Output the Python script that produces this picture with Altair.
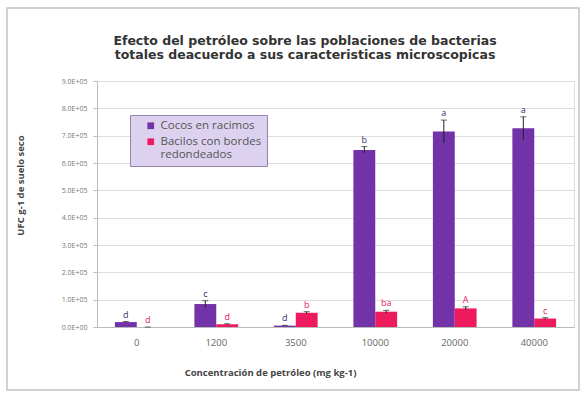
import altair as alt
import pandas as pd

conc = ["0", "1200", "3500", "10000", "20000", "40000"]
series = ["Cocos en racimos", "Bacilos con bordes redondeados"]
cocos = [0.18e5, 0.84e5, 0.05e5, 6.48e5, 7.15e5, 7.27e5]
cocos_err = [0.02e5, 0.12e5, 0.01e5, 0.12e5, 0.42e5, 0.42e5]
bacilos = [0.0, 0.10e5, 0.52e5, 0.56e5, 0.68e5, 0.31e5]
bacilos_err = [0.0, 0.02e5, 0.04e5, 0.05e5, 0.06e5, 0.03e5]
cocos_letters = ["d", "c", "d", "b", "a", "a"]
bacilos_letters = ["d", "d", "b", "ba", "A", "c"]
y_ticks = [0, 100000, 200000, 300000, 400000, 500000, 600000, 700000, 800000, 900000]
colors = ["#7232a8", "#ee1a5e"]
title_lines = ["Efecto del petróleo sobre las poblaciones de bacterias",
               "totales deacuerdo a sus caracteristicas microscopicas"]

rows = []
for i, c in enumerate(conc):
    rows.append({"conc": c, "serie": series[0], "v": cocos[i], "e": cocos_err[i], "lab": cocos_letters[i]})
    rows.append({"conc": c, "serie": series[1], "v": bacilos[i], "e": bacilos_err[i], "lab": bacilos_letters[i]})
df = pd.DataFrame(rows)

FONT = "Open Sans"

y_scale = alt.Scale(domain=[0, 900000], nice=False)
y_axis = alt.Axis(values=y_ticks, title="UFC g-1 de suelo seco",
                  labelExpr="datum.value == 0 ? '0.0E+00' : format(datum.value/100000, '.1f') + 'E+05'",
                  labelOverlap=False,
                  labelFont=FONT, labelFontSize=7, labelColor="#777",
                  tickSize=4, tickColor="#bbbbbb", domainColor="#bbbbbb",
                  gridColor="#dddddd", labelPadding=6,
                  titleFont=FONT, titleFontSize=9.5, titleFontWeight="bold",
                  titleColor="#444", titleX=-77, titleY=104,
                  titleAngle=-90, titleBaseline="middle")

base = alt.Chart(df).transform_calculate(
    lo="datum.v - datum.e", hi="datum.v + datum.e"
).encode(
    x=alt.X("conc:N", sort=conc,
            scale=alt.Scale(paddingInner=0.45, paddingOuter=0.225),
            axis=alt.Axis(title="Concentración de petróleo (mg kg-1)", labelAngle=0,
                          labelFont=FONT, labelFontSize=9.5, labelColor="#666",
                          labelPadding=10, ticks=False, domainColor="#bbbbbb",
                          titleFont=FONT, titleFontSize=9.5, titleFontWeight="bold",
                          titleColor="#444", titleX=173, titleY=45,
                          titleBaseline="middle")),
    xOffset=alt.XOffset("serie:N", sort=series,
                        scale=alt.Scale(paddingInner=0, paddingOuter=0)),
)

bars = base.mark_bar().encode(
    y=alt.Y("v:Q", scale=y_scale, axis=y_axis),
    color=alt.Color("serie:N", sort=series,
                    scale=alt.Scale(domain=series, range=colors),
                    legend=alt.Legend(orient="none", legendX=33, legendY=34, title=None,
                                      fillColor="#dcd2ef", strokeColor="#9484ae",
                                      padding=5, symbolOffset=10, symbolType="square",
                                      symbolSize=45, symbolStrokeWidth=0,
                                      labelFont=FONT, labelFontSize=11.5, labelColor="#555",
                                      rowPadding=3, labelLimit=220,
                                      labelExpr="datum.label == 'Bacilos con bordes redondeados' ? ['Bacilos con bordes', 'redondeados'] : datum.label")),
)

err = base.mark_rule(color="#222", strokeWidth=1).encode(
    y=alt.Y("lo:Q", scale=y_scale, axis=y_axis), y2="hi:Q")
caps = base.mark_tick(color="#222", thickness=1, size=6).encode(
    y=alt.Y("hi:Q", scale=y_scale, axis=y_axis))

labels = base.mark_text(font=FONT, fontSize=9, baseline="bottom", dy=-2).encode(
    y=alt.Y("hi:Q", scale=y_scale, axis=y_axis), text="lab:N",
    color=alt.condition(alt.datum.serie == series[0], alt.value("#3b2a6b"), alt.value("#e8185f")),
)

one = pd.DataFrame({"f": [0]})
frame = alt.Chart(one).mark_rect(
    fill=None, stroke="#c4c4c4", strokeWidth=1.5
).encode(x=alt.value(-90), x2=alt.value(482), y=alt.value(-73), y2=alt.value(309))

title = alt.Chart(one).mark_text(
    text=title_lines, font="DejaVu Sans", fontSize=12.5, fontWeight="bold",
    color="#333", lineHeight=14, align="center", baseline="middle"
).encode(x=alt.value(208), y=alt.value(-40))

chart = alt.layer(frame, title, bars, err, caps, labels).properties(
    width=477, height=246,
    padding={"left": 97, "top": 81, "right": 12, "bottom": 73},
    autosize=alt.AutoSizeParams(type="none"),
).configure_view(stroke=None).configure(background="white")

chart.save("out.html", embed_options={"renderer": "svg", "actions": False})
